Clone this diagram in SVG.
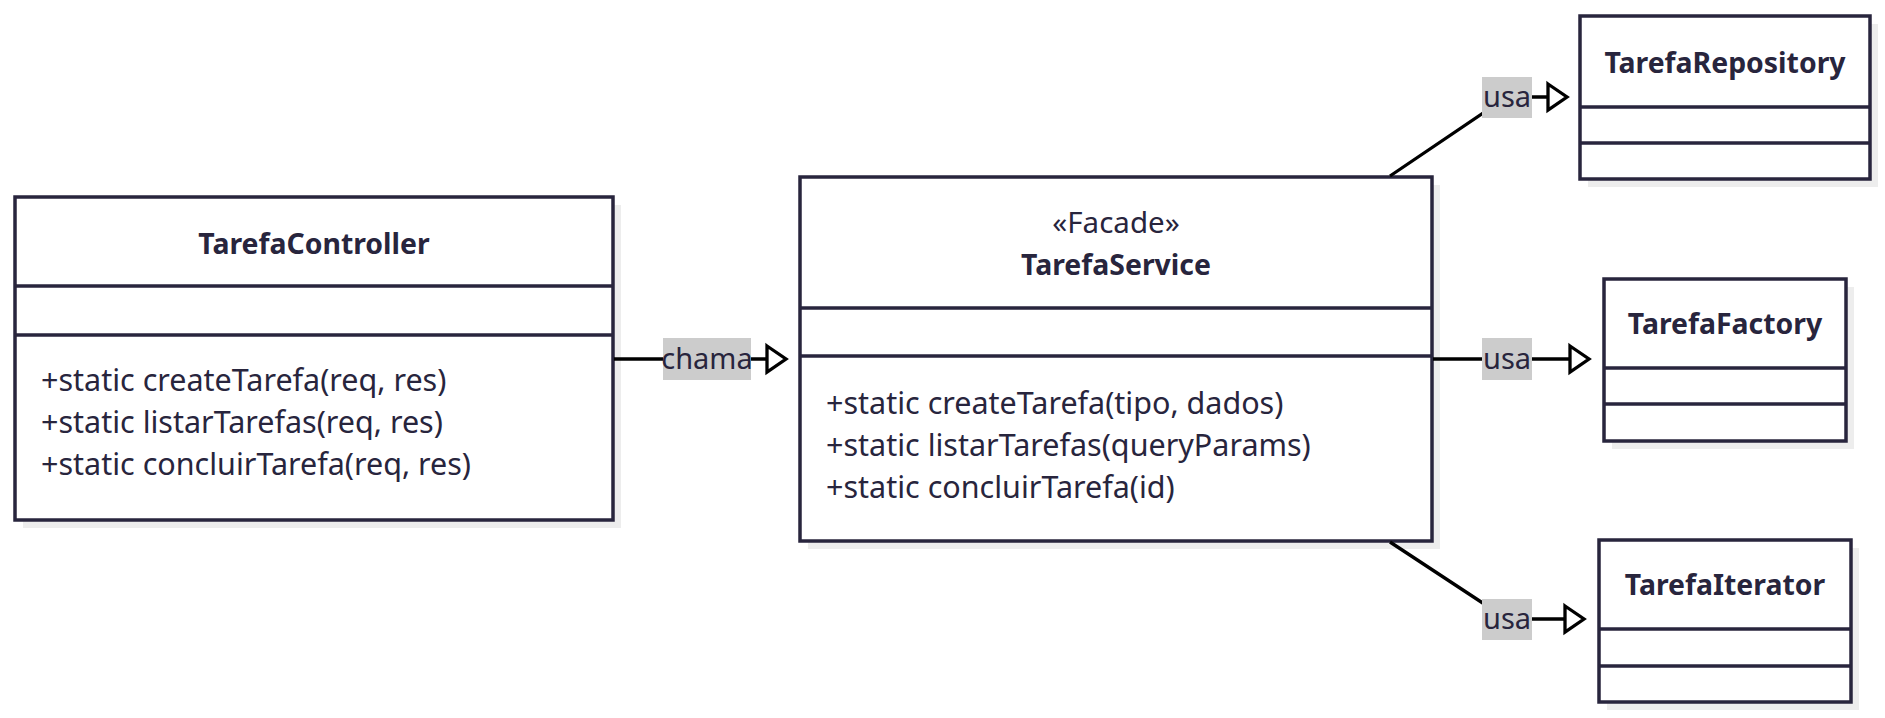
<svg xmlns="http://www.w3.org/2000/svg" width="1885" height="718" viewBox="0 0 1885 718">
<style>
  .shadow { fill: #ededed; }
  .box { fill: #ffffff; stroke: #28253d; stroke-width: 3.5; }
  .div { stroke: #28253d; stroke-width: 3.5; }
  .title { font-family: "Noto Sans", "Open Sans", sans-serif; font-weight: bold; font-size: 28.4px; fill: #28253d; text-anchor: middle; }
  .stereo { font-family: "Noto Sans", "Open Sans", sans-serif; font-size: 29.5px; fill: #28253d; text-anchor: middle; }
  .member { font-family: "Noto Sans", "Open Sans", sans-serif; font-size: 30.5px; fill: #28253d; }
  .edge { fill: none; stroke: #000000; stroke-width: 3.3; }
  .head { fill: #ffffff; stroke: #000000; stroke-width: 3.3; stroke-linejoin: miter; }
  .lblbg { fill: #cccccc; }
  .lbl { font-family: "Noto Sans", "Open Sans", sans-serif; font-size: 29px; fill: #28253d; text-anchor: middle; }
</style>
<rect width="1885" height="718" fill="#ffffff"/>

<g id="TarefaController">
  <rect class="shadow" x="23" y="205" width="598" height="323"/>
  <rect class="box" x="15" y="197" width="598" height="323"/>
  <line class="div" x1="15" y1="286" x2="613" y2="286"/>
  <line class="div" x1="15" y1="335" x2="613" y2="335"/>
  <text class="title" x="314" y="254">TarefaController</text>
  <text class="member" x="41" y="391">+static createTarefa(req, res)</text>
  <text class="member" x="41" y="433">+static listarTarefas(req, res)</text>
  <text class="member" x="41" y="475">+static concluirTarefa(req, res)</text>
</g>

<g id="TarefaService">
  <rect class="shadow" x="808" y="185" width="632" height="364"/>
  <rect class="box" x="800" y="177" width="632" height="364"/>
  <line class="div" x1="800" y1="308" x2="1432" y2="308"/>
  <line class="div" x1="800" y1="356" x2="1432" y2="356"/>
  <text class="stereo" x="1116" y="233">«Facade»</text>
  <text class="title" x="1116" y="275">TarefaService</text>
  <text class="member" x="826" y="414">+static createTarefa(tipo, dados)</text>
  <text class="member" x="826" y="456">+static listarTarefas(queryParams)</text>
  <text class="member" x="826" y="498">+static concluirTarefa(id)</text>
</g>

<g id="TarefaRepository">
  <rect class="shadow" x="1588" y="24" width="290" height="163"/>
  <rect class="box" x="1580" y="16" width="290" height="163"/>
  <line class="div" x1="1580" y1="107" x2="1870" y2="107"/>
  <line class="div" x1="1580" y1="143" x2="1870" y2="143"/>
  <text class="title" x="1725" y="73">TarefaRepository</text>
</g>

<g id="TarefaFactory">
  <rect class="shadow" x="1612" y="287" width="242" height="162"/>
  <rect class="box" x="1604" y="279" width="242" height="162"/>
  <line class="div" x1="1604" y1="368" x2="1846" y2="368"/>
  <line class="div" x1="1604" y1="404" x2="1846" y2="404"/>
  <text class="title" x="1725" y="334">TarefaFactory</text>
</g>

<g id="TarefaIterator">
  <rect class="shadow" x="1607" y="548" width="252" height="162"/>
  <rect class="box" x="1599" y="540" width="252" height="162"/>
  <line class="div" x1="1599" y1="629" x2="1851" y2="629"/>
  <line class="div" x1="1599" y1="666" x2="1851" y2="666"/>
  <text class="title" x="1725" y="595">TarefaIterator</text>
</g>

<g id="connectors">
  <g id="edge-chama">
    <path class="edge" d="M614,359 L767,359"/>
    <polygon class="head" points="767,346 786,359 767,372"/>
    <rect class="lblbg" x="663" y="338" width="88" height="42"/>
    <text class="lbl" x="707" y="369">chama</text>
  </g>
  <g id="edge-repo">
    <path class="edge" d="M1390,176 L1507,97 L1548,97"/>
    <polygon class="head" points="1548,84 1567,97 1548,110"/>
    <rect class="lblbg" x="1482" y="77" width="50" height="41"/>
    <text class="lbl" x="1507" y="107">usa</text>
  </g>
  <g id="edge-factory">
    <path class="edge" d="M1433,359 L1570,359"/>
    <polygon class="head" points="1570,346 1589,359 1570,372"/>
    <rect class="lblbg" x="1482" y="338" width="50" height="42"/>
    <text class="lbl" x="1507" y="369">usa</text>
  </g>
  <g id="edge-iterator">
    <path class="edge" d="M1390,542 L1507,619 L1565,619"/>
    <polygon class="head" points="1565,606 1584,619 1565,632"/>
    <rect class="lblbg" x="1482" y="599" width="50" height="41"/>
    <text class="lbl" x="1507" y="629">usa</text>
  </g>
</g>
</svg>
